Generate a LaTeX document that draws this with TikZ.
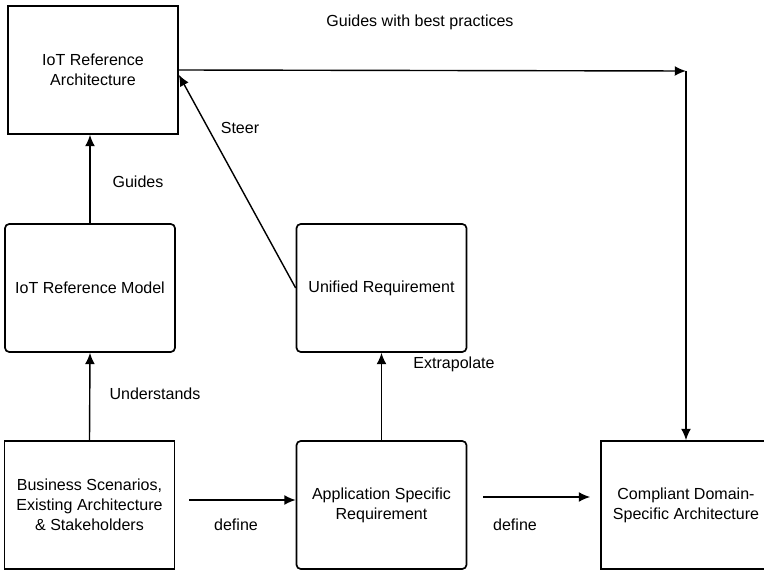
\documentclass[tikz,border=0pt]{standalone}
\usepackage{fontspec}
\setmainfont{Liberation Sans}
\usetikzlibrary{arrows.meta}
\begin{document}
\begin{tikzpicture}%
[every node/.style={rectangle,draw=black,line width=1.2pt,minimum width=4.25cm,
minimum height=3.2cm,align=center,font=\fontsize{11.4}{14.2}\selectfont},
lbl/.style={draw=none,minimum width=0cm,minimum height=0cm,inner sep=1pt},
>={Latex[length=8pt,width=7pt]}]
\useasboundingbox (0,0) rectangle (19.1,14.25);
\node (refarch) at (2.325,12.5) {IoT Reference\\Architecture};
\node (refmodel) at (2.25,7.05) [rounded corners=3pt] {IoT Reference Model};
\node (business) at (2.2375,1.625) {Business Scenarios,\\Existing Architecture\\\& Stakeholders};
\node (appreq) at (9.5375,1.625) [rounded corners=3pt] {Application Specific\\Requirement};
\node (unified) at (9.5375,7.05) [rounded corners=3pt] {Unified Requirement};
\node (compliant) at (17.15,1.625) {Compliant Domain-\\Specific Architecture};
\coordinate (corner) at (17.15,12.475);
\node (lblbest) at (10.5,13.7) [lbl] {Guides with best practices};
\node (lblsteer) at (6.0,11.05) [lbl] {Steer};
\node (lblguides) at (3.45,9.7) [lbl] {Guides};
\node (lblunderstands) at (3.875,4.4) [lbl] {Understands};
\node (lblextrapolate) at (11.35,5.15) [lbl] {Extrapolate};
\node (lbldefineA) at (5.9,1.125) [lbl] {define};
\node (lbldefineB) at (12.875,1.125) [lbl] {define};
\draw [->,line width=1pt] (refmodel.north) -- (refmodel.north |- refarch.south);
\draw [->,line width=1pt] (business.north) -- (refmodel.south);
\draw [->,line width=1pt] (appreq.north) -- (unified.south);
\draw [->,line width=1pt] (unified.west) -- ([yshift=-0.12cm]refarch.east);
\draw [->,line width=1pt] (refarch.east) -- (corner);
\draw [->,line width=1pt] (corner) -- (compliant.north);
\draw [->,line width=1pt,shorten <=0.35cm] ([yshift=0.125cm]business.east) --
([yshift=0.125cm]appreq.west);
\draw [->,line width=1pt,shorten <=0.4cm,shorten >=0.25cm]
([yshift=0.2cm]appreq.east) -- ([yshift=0.2cm]compliant.west);
\end{tikzpicture}
\end{document}
